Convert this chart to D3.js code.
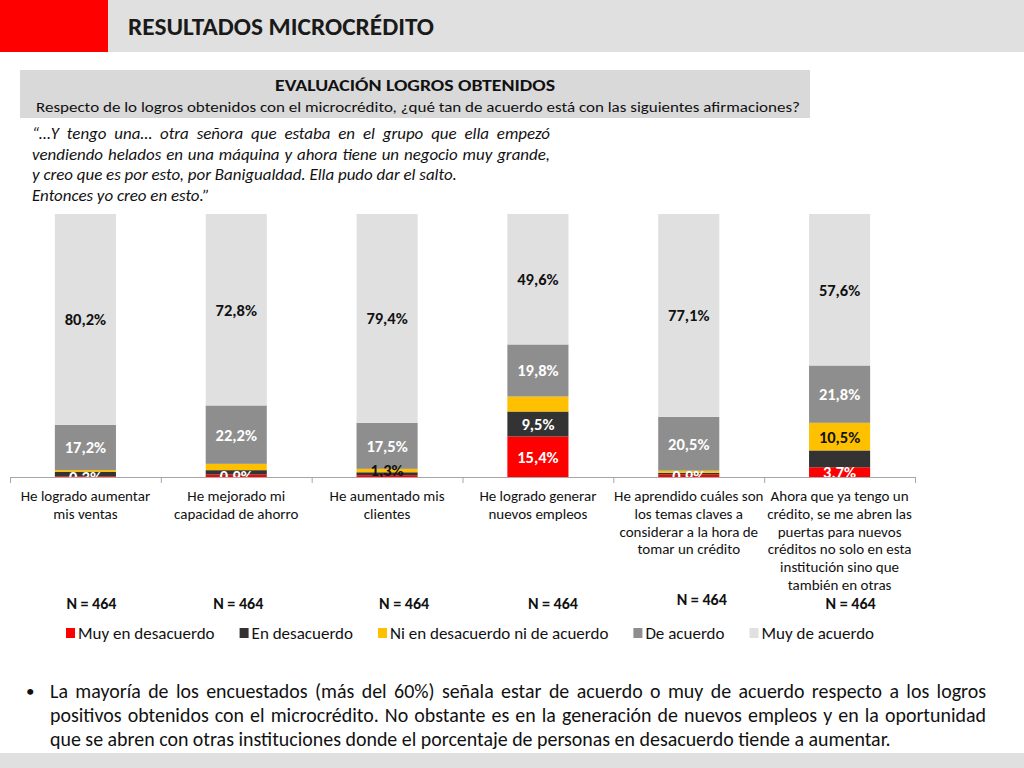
<!DOCTYPE html>
<html><head><meta charset="utf-8">
<script src="https://cdn.jsdelivr.net/npm/d3@7"></script>
<style>body{margin:0;background:#fff}svg{display:block;font-family:Carlito,Lato,"Open Sans",sans-serif}</style>
</head><body><svg id="c" width="1024" height="768"></svg>
<script>
// ---------- DATA ----------
const categories = [
  "He logrado aumentar\nmis ventas",
  "He mejorado mi\ncapacidad de ahorro",
  "He aumentado mis\nclientes",
  "He logrado generar\nnuevos empleos",
  "He aprendido cuáles son\nlos temas claves a\nconsiderar a la hora de\ntomar un crédito",
  "Ahora que ya tengo un\ncrédito, se me abren las\npuertas para nuevos\ncréditos no solo en esta\ninstitución sino que\ntambién en otras"
];
const seriesNames = ["Muy en desacuerdo","En desacuerdo","Ni en desacuerdo ni de acuerdo","De acuerdo","Muy de acuerdo"];
const muyEnDesacuerdo = [0.3, 0.9, 0.7, 15.4, 0.9, 3.7];
const enDesacuerdo    = [1.6, 1.7, 1.1, 9.5, 0.7, 6.4];
const niNi            = [0.7, 2.4, 1.3, 5.7, 0.8, 10.5];
const deAcuerdo       = [17.2, 22.2, 17.5, 19.8, 20.5, 21.8];
const muyDeAcuerdo    = [80.2, 72.8, 79.4, 49.6, 77.1, 57.6];
// which data labels are displayed (1 = shown)
const showMuyEn   = [1,1,0,1,1,1];
const showEn      = [0,0,0,1,0,0];
const showNiNi    = [0,0,1,0,0,1];
const showDe      = [1,1,1,1,1,1];
const showMuyDe   = [1,1,1,1,1,1];
const nLabels = ["N = 464","N = 464","N = 464","N = 464","N = 464","N = 464"];

// ---------- LAYOUT / STYLE ----------
const colors = ["#ff0000","#333333","#ffc000","#8e8e8e","#e0e0e0"];
const labelColors = ["#fff","#fff","#111","#fff","#111"];
const nOffsets = [[6,0],[2,0],[17,0],[15,0],[13,-4],[11,0]];
const plot = {left:10, right:915, top:214, bottom:477};

const svg = d3.select("#c");

// justify helper: fit reference line naturally to width, justify others via word-spacing
function paragraph(lines, x0, y0, lh, baseSize, refIndex, refWidth, fullWidth, extra){
  const probe = svg.append("text").attr("font-size",baseSize).attr("font-style",extra.italic?"italic":null).text(lines[refIndex]);
  const size = baseSize*refWidth/probe.node().getComputedTextLength();
  probe.remove();
  lines.forEach((l,i)=>{
    const t = svg.append("text").attr("x",x0).attr("y",y0+i*lh).attr("font-size",size).attr("fill","#111")
      .attr("font-style",extra.italic?"italic":null).text(l);
    if (extra.justify[i]) {
      const w = t.node().getComputedTextLength();
      const spaces = (l.match(/ /g)||[]).length;
      t.attr("word-spacing",(fullWidth-w)/spaces);
    }
  });
}

// header
svg.append("rect").attr("x",108).attr("y",0).attr("width",916).attr("height",52).attr("fill","#e0e0e0");
svg.append("rect").attr("x",0).attr("y",0).attr("width",108).attr("height",52).attr("fill","#ff0000");
svg.append("text").attr("x",128).attr("y",35).attr("font-size",24).attr("font-weight","bold").attr("fill","#1a1a1a")
  .attr("textLength",306).attr("lengthAdjust","spacingAndGlyphs").text("RESULTADOS MICROCRÉDITO");

// subtitle box
svg.append("rect").attr("x",20).attr("y",70).attr("width",790).attr("height",48).attr("fill","#d9d9d9");
svg.append("text").attr("x",415).attr("y",91).attr("text-anchor","middle").attr("font-size",16).attr("font-weight","bold").attr("fill","#111")
  .attr("textLength",280).attr("lengthAdjust","spacingAndGlyphs").text("EVALUACIÓN LOGROS OBTENIDOS");
svg.append("text").attr("x",418).attr("y",112).attr("text-anchor","middle").attr("font-size",15).attr("fill","#111")
  .attr("textLength",764).attr("lengthAdjust","spacingAndGlyphs")
  .text("Respecto de lo logros obtenidos con el microcrédito, ¿qué tan de acuerdo está con las siguientes afirmaciones?");

// quote
paragraph([
  "“…Y tengo una… otra señora que estaba en el grupo que ella empezó",
  "vendiendo helados en una máquina y ahora tiene un negocio muy grande,",
  "y creo que es por esto, por Banigualdad. Ella pudo dar el salto.",
  "Entonces yo creo en esto.”"
], 32, 139, 20.7, 15, 2, 425, 518, {italic:true, justify:[1,1,0,0]});

// ---------- CHART ----------
const table = categories.map((c,i)=>({cat:c, s0:muyEnDesacuerdo[i], s1:enDesacuerdo[i], s2:niNi[i], s3:deAcuerdo[i], s4:muyDeAcuerdo[i]}));
const shows = [showMuyEn, showEn, showNiNi, showDe, showMuyDe];
const keys = ["s0","s1","s2","s3","s4"];
const stacked = d3.stack().keys(keys)(table);

const x = d3.scaleBand().domain(categories).range([plot.left, plot.right]).paddingInner(0.595).paddingOuter(0.2975);
const y = d3.scaleLinear().domain([0,100]).range([plot.bottom, plot.top]);

svg.append("clipPath").attr("id","pc").append("rect")
  .attr("x",plot.left).attr("y",plot.top-20).attr("width",plot.right-plot.left).attr("height",plot.bottom-plot.top+20);

const g = svg.append("g");
stacked.forEach((layer,li)=>{
  g.append("g").attr("fill",colors[li]).selectAll("rect").data(layer).join("rect")
    .attr("x",d=>x(d.data.cat)).attr("width",x.bandwidth())
    .attr("y",d=>y(d[1])).attr("height",d=>y(d[0])-y(d[1]));
});
const lg = svg.append("g").attr("clip-path","url(#pc)");
stacked.forEach((layer,li)=>{
  lg.append("g").selectAll("text").data(layer.map((d,i)=>({d,i})).filter(o=>shows[li][o.i])).join("text")
    .attr("x",o=>x(o.d.data.cat)+x.bandwidth()/2)
    .attr("y",o=>(y(o.d[0])+y(o.d[1]))/2)
    .attr("dy","0.36em")
    .attr("text-anchor","middle").attr("font-size",16.5).attr("font-weight","bold")
    .attr("fill",labelColors[li])
    .text(o=>d3.format(".1f")(o.d[1]-o.d[0]).replace(".",",")+"%");
});

// axis with ticks at category boundaries
const bx = d3.scaleLinear().domain([0,categories.length]).range([plot.left, plot.right]);
const ax = svg.append("g").attr("transform",`translate(0,${plot.bottom})`)
  .call(d3.axisBottom(bx).tickValues(d3.range(categories.length+1)).tickSize(6).tickFormat(""));
ax.selectAll("path,line").attr("stroke","#a6a6a6");

// category labels
categories.forEach(c=>{
  const lines = c.split("\n");
  const t = svg.append("text").attr("text-anchor","middle").attr("font-size",15).attr("fill","#111");
  lines.forEach((l,j)=>{
    t.append("tspan").attr("x",x(c)+x.bandwidth()/2).attr("y",501+j*17.8).text(l);
  });
});

// N labels
categories.forEach((c,i)=>{
  svg.append("text").attr("x",x(c)+x.bandwidth()/2+nOffsets[i][0]).attr("y",609+nOffsets[i][1])
    .attr("text-anchor","middle").attr("font-size",16).attr("font-weight","bold").attr("fill","#111").text(nLabels[i]);
});

// legend
let lx = 66;
seriesNames.forEach((n,i)=>{
  svg.append("rect").attr("x",lx).attr("y",628).attr("width",9).attr("height",10).attr("fill",colors[i]);
  const t = svg.append("text").attr("x",lx+12).attr("y",639).attr("font-size",17).attr("fill","#111").text(n);
  lx += 12 + t.node().getComputedTextLength() + 25;
});

// bullet text
svg.append("text").attr("x",26).attr("y",697).attr("font-size",17).attr("fill","#111").text("•");
paragraph([
  "La mayoría de los encuestados (más del 60%) señala estar de acuerdo o muy de acuerdo respecto a los logros",
  "positivos obtenidos con el microcrédito. No obstante es en la generación de nuevos empleos y en la oportunidad",
  "que se abren con otras instituciones donde el porcentaje de personas en desacuerdo tiende a aumentar."
], 50, 698, 24, 18, 2, 841, 936, {italic:false, justify:[1,1,0]});

// bottom band
svg.append("rect").attr("x",0).attr("y",753).attr("width",1024).attr("height",15).attr("fill","#e0e0e0");
</script></body></html>
